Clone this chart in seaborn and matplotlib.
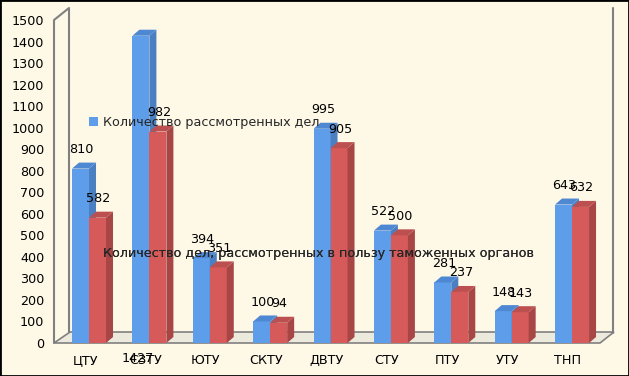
import numpy as np
import pandas as pd
import seaborn as sns
import matplotlib
matplotlib.use("Agg")
import matplotlib.pyplot as plt
import matplotlib.patches as mpatches
from matplotlib.transforms import ScaledTranslation

categories = ["ЦТУ", "СЗТУ", "ЮТУ", "СКТУ", "ДВТУ", "СТУ", "ПТУ", "УТУ", "ТНП"]
total_cases = [810, 1427, 394, 100, 995, 522, 281, 148, 643]
won_cases = [582, 982, 351, 94, 905, 500, 237, 143, 632]
series_names = ["Количество рассмотренных дел",
                "Количество дел, рассмотренных в пользу таможенных органов"]
yticks = list(range(0, 1501, 100))

df = pd.DataFrame({
    "cat": categories * 2,
    "value": total_cases + won_cases,
    "series": [series_names[0]] * len(categories) + [series_names[1]] * len(categories),
})

BG = "#FEF8E7"
FRONT = ["#5E9DEA", "#D65A5A"]
SIDE = ["#4A7FC2", "#A84646"]
TOP = ["#4F88D2", "#BC4F4F"]
GRID = "#808080"
FS = 9.2

sns.set_theme(style="white")
plt.rcParams["font.family"] = ["DejaVu Sans"]

W, H = 629, 376
fig = plt.figure(figsize=(W / 100, H / 100), dpi=100, facecolor=BG)
ax = fig.add_axes([54 / W, (H - 343) / H, 546 / W, 323 / H])
ax.set_facecolor(BG)

sns.barplot(data=df, x="cat", y="value", hue="series", palette=FRONT,
            width=0.563, gap=0, saturation=1, legend=False, ax=ax,
            linewidth=0, order=categories, hue_order=series_names)
bars = [p for p in ax.patches if isinstance(p, mpatches.Rectangle)]

ax.set_xlim(-0.58, 8.463)
ax.set_ylim(0, 1500)
ax.patch.set_visible(False)
for s in ax.spines.values():
    s.set_visible(False)

pxx = 546 / (8.463 + 0.58)   # px per x unit
pxy = 323 / 1500             # px per y unit

def dx(p):
    return p / pxx

def dy(p):
    return p / pxy

# floor and walls
floor = mpatches.Polygon([(-0.58, 0), (8.463, 0), (8.463 + dx(14), dy(11)),
                          (-0.58 + dx(16), dy(11))], closed=True,
                         facecolor="#ECE9DD", edgecolor=GRID, lw=1.2,
                         zorder=0.5, clip_on=False)
ax.add_patch(floor)
ax.plot([-0.58, -0.58, -0.58 + dx(15), -0.58 + dx(15)],
        [0, 1500, 1500 + dy(12), dy(11)], color=GRID, lw=1.5,
        zorder=0.6, clip_on=False)
ax.plot([8.463 + dx(13), 8.463 + dx(13)], [dy(10), 1500 + dy(12)],
        color=GRID, lw=1.5, zorder=0.6, clip_on=False)

# 3D faces on bars
n = len(categories)
ox, oy = dx(7), dy(6)
for i, bar in enumerate(bars):
    s = 0 if i < n else 1
    x0, y0 = bar.get_x(), bar.get_y()
    w, h = bar.get_width(), bar.get_height()
    x1, y1 = x0 + w, y0 + h
    z = 2 + s * 2
    bar.set_zorder(z)
    side = mpatches.Polygon([(x1, y0), (x1 + ox, y0 + oy), (x1 + ox, y1 + oy), (x1, y1)],
                            closed=True, facecolor=SIDE[s], edgecolor="none",
                            zorder=z + 0.5, clip_on=False)
    top = mpatches.Polygon([(x0, y1), (x0 + ox, y1 + oy), (x1 + ox, y1 + oy), (x1, y1)],
                           closed=True, facecolor=TOP[s], edgecolor="none",
                           zorder=z + 0.5, clip_on=False)
    ax.add_patch(side)
    ax.add_patch(top)
    vals = total_cases if s == 0 else won_cases
    v = vals[i % n]
    cx = x0 + w / 2
    if v == 1427:
        ax.annotate(str(v), (cx, 0), xytext=(-3, -16), textcoords="offset pixels",
                    ha="center", va="center", fontsize=FS, color="black",
                    zorder=10, annotation_clip=False)
    else:
        ax.annotate(str(v), (cx, v), xytext=(1, 19), textcoords="offset pixels",
                    ha="center", va="center", fontsize=FS, color="black",
                    zorder=10, annotation_clip=False)

ax.set_yticks(yticks)
ax.set_yticklabels([str(t) for t in yticks])
ax.set_xlabel("")
ax.set_ylabel("")
ax.tick_params(axis="both", length=0, labelsize=FS, colors="black")
ax.tick_params(axis="y", pad=7)
ax.tick_params(axis="x", pad=8)
off = ScaledTranslation(-4 / 100, 0, fig.dpi_scale_trans)
for lab in ax.get_xticklabels():
    lab.set_transform(lab.get_transform() + off)

# legend entries placed separately as in the reference
for k, yc in enumerate([122, 254]):
    leg = ax.legend(handles=[mpatches.Patch(facecolor=FRONT[k], edgecolor="none",
                                            label=series_names[k])],
                    loc="center left", bbox_to_anchor=(89 / W, 1 - yc / H),
                    bbox_transform=fig.transFigure, frameon=False,
                    borderpad=0, borderaxespad=0, handlelength=0.7,
                    handleheight=0.7, handletextpad=0.4, fontsize=FS)
    leg.set_zorder(12)
    ax.add_artist(leg)

fig.patches.append(mpatches.Rectangle((0, 0), 1, 1, transform=fig.transFigure,
                                      fill=False, edgecolor="black", lw=2))

fig.savefig("out.png", dpi=100, facecolor=BG)
